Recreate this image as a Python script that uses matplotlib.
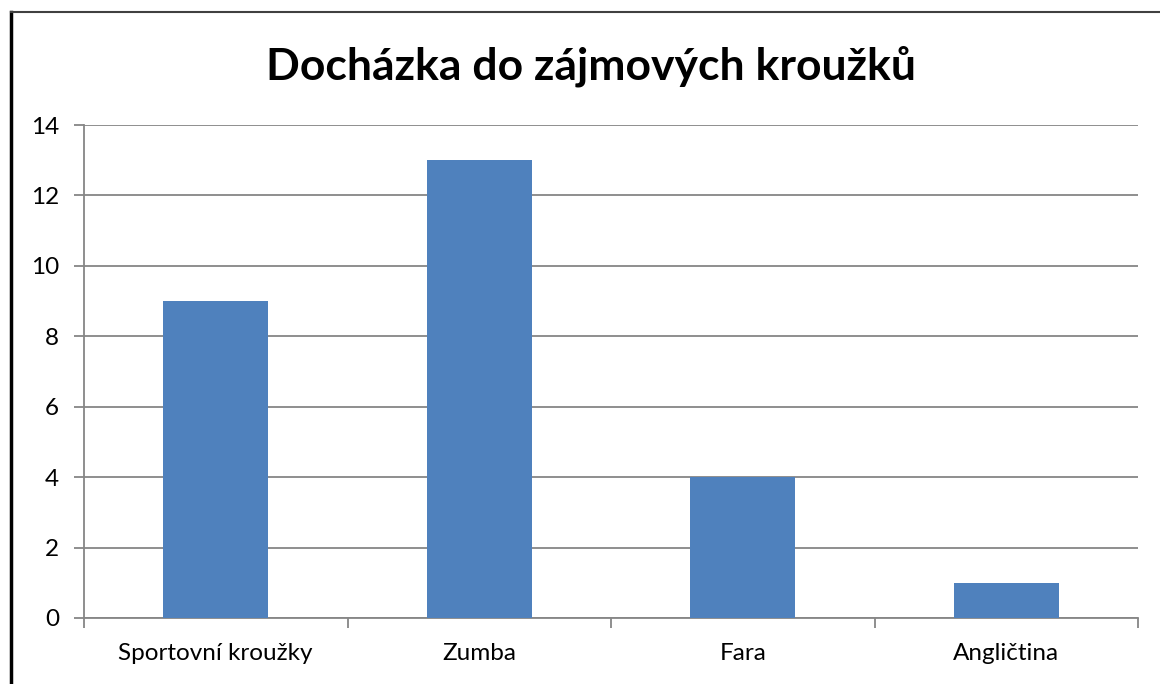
import matplotlib.pyplot as plt
import numpy as np
from matplotlib.lines import Line2D

categories = ['Sportovní kroužky', 'Zumba', 'Fara', 'Angličtina']
values = [9, 13, 4, 1]
yticks = [0, 2, 4, 6, 8, 10, 12, 14]

plt.rcParams['font.family'] = ['Lato', 'DejaVu Sans']

fig = plt.figure(figsize=(11.6, 6.84), dpi=100)
ax = fig.add_axes([84/1160, 1-618/684, (1138-84)/1160, (618-125)/684])

x = np.arange(len(categories))
ax.bar(x, values, width=0.4, color='#4F81BD', zorder=3)

ax.set_xlim(-0.5, len(categories)-0.5)
ax.set_ylim(0, 14)
ax.set_yticks(yticks)
ax.yaxis.grid(True, color='#868686', linewidth=1.3, zorder=0)
ax.set_xticks(x)
ax.set_xticklabels(categories)
ax.set_xticks(np.arange(len(categories)+1)-0.5, minor=True)
ax.tick_params(axis='x', which='major', length=0, pad=18, labelsize=17.5)
ax.tick_params(axis='x', which='minor', length=7, width=1.3, color='#868686')
ax.tick_params(axis='y', length=7, width=1.3, color='#868686', labelsize=17.5, pad=11)

for s in ['top', 'right']:
    ax.spines[s].set_visible(False)
for s in ['left', 'bottom']:
    ax.spines[s].set_color('#868686')
    ax.spines[s].set_linewidth(1.3)

fig.text(591/1160, 1-66/684, 'Docházka do zájmových kroužků', ha='center', va='center',
         fontsize=32, fontweight='bold')

# chart border (cropped on right and bottom)
fig.add_artist(Line2D([11/1160, 11/1160], [0, 1-12/684], color='black', linewidth=2.5))
fig.add_artist(Line2D([11/1160, 1], [1-12/684, 1-12/684], color='#404040', linewidth=1.5))

fig.savefig('out.png', dpi=100)
